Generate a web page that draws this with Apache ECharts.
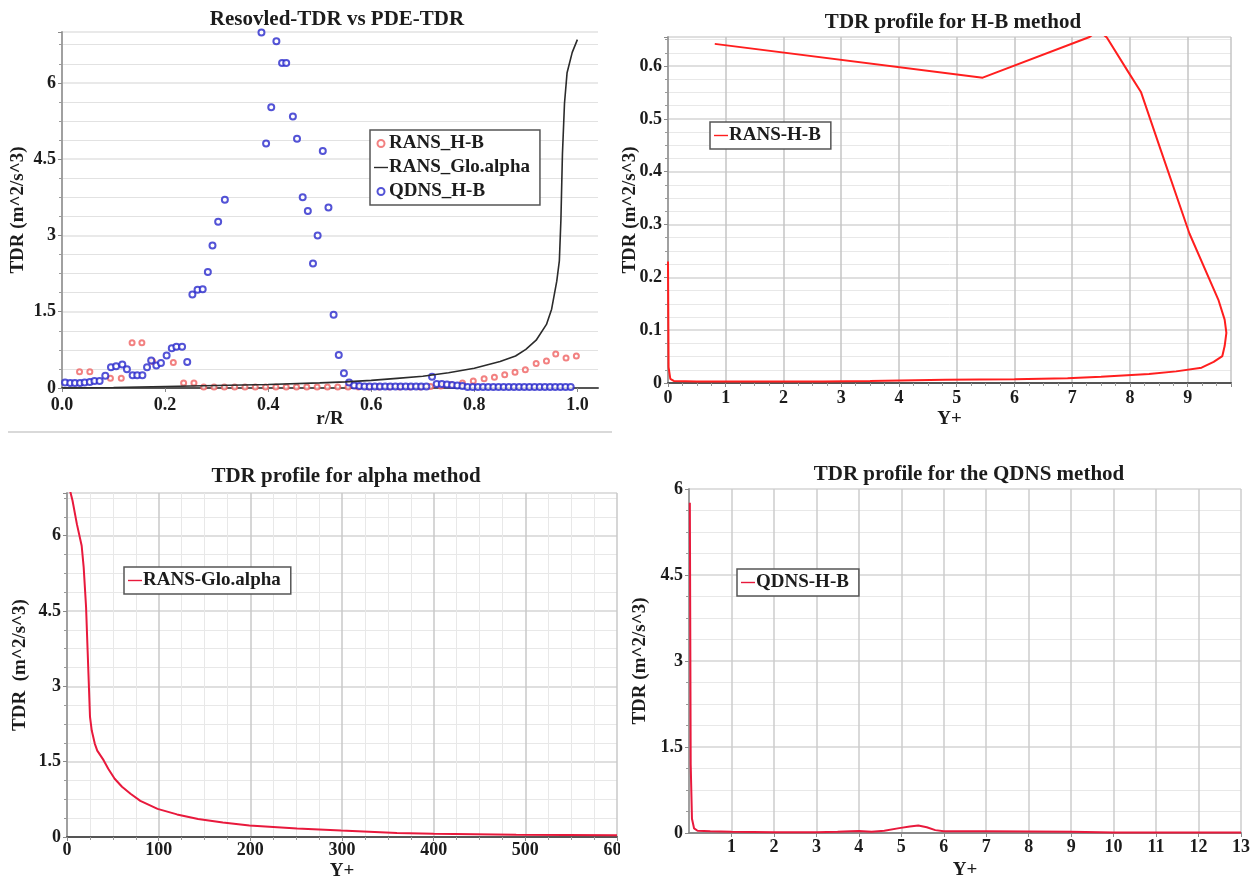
<!DOCTYPE html>
<html>
<head>
<meta charset="utf-8">
<script src="https://cdn.jsdelivr.net/npm/echarts@6/dist/echarts.min.js"></script>
<style>
  html, body { margin: 0; padding: 0; background: #fff; }
  #page { position: relative; width: 1256px; height: 884px; overflow: hidden; }
  .panel { position: absolute; overflow: hidden; }
</style>
</head>
<body>
<div id="page">
  <div id="c1" class="panel" style="left:0;top:0;width:620px;height:442px"></div>
  <div id="c2" class="panel" style="left:620px;top:0;width:636px;height:442px"></div>
  <div id="c3" class="panel" style="left:0;top:442px;width:620px;height:442px"></div>
  <div id="c4" class="panel" style="left:620px;top:442px;width:636px;height:442px"></div>
</div>
<script>
/* -------------------------------------------------------------------------- */
/*                                    Data                                    */
/* -------------------------------------------------------------------------- */

// Resolved-TDR vs PDE-TDR (r/R, TDR)
const rRansHB = [0.034, 0.054, 0.094, 0.115, 0.136, 0.155, 0.176, 0.216, 0.236, 0.256,
  0.275, 0.295, 0.315, 0.335, 0.355, 0.375, 0.395, 0.415, 0.435, 0.455, 0.475, 0.495,
  0.515, 0.535, 0.555, 0.575, 0.595, 0.615, 0.635, 0.655, 0.675, 0.695, 0.715, 0.735,
  0.755, 0.777, 0.798, 0.819, 0.839, 0.859, 0.879, 0.899, 0.92, 0.94, 0.958, 0.978, 0.998];
const tdrRansHB = [0.32, 0.32, 0.19, 0.19, 0.89, 0.89, 0.52, 0.5, 0.1, 0.1,
  0.02, 0.02, 0.02, 0.02, 0.02, 0.02, 0.02, 0.02, 0.02, 0.02, 0.02, 0.02,
  0.02, 0.02, 0.02, 0.02, 0.02, 0.02, 0.02, 0.02, 0.02, 0.02, 0.03, 0.04,
  0.065, 0.1, 0.14, 0.18, 0.21, 0.26, 0.31, 0.36, 0.48, 0.53, 0.67, 0.59, 0.63];

const rGloAlpha = [0, 0.1, 0.2, 0.3, 0.4, 0.5, 0.55, 0.6, 0.65, 0.7, 0.75, 0.8, 0.85, 0.88,
  0.9, 0.92, 0.94, 0.95, 0.96, 0.965, 0.968, 0.971, 0.975, 0.98, 0.99, 1.0];
const tdrGloAlpha = [0, 0.01, 0.03, 0.05, 0.07, 0.1, 0.12, 0.15, 0.19, 0.23, 0.3, 0.39, 0.52, 0.63,
  0.76, 0.94, 1.25, 1.55, 2.1, 2.5, 3.3, 4.6, 5.6, 6.2, 6.6, 6.85];

const rQdnsHB = [0.006, 0.016, 0.025, 0.035, 0.044, 0.054, 0.063, 0.073, 0.084, 0.095,
  0.105, 0.117, 0.126, 0.137, 0.146, 0.156, 0.165, 0.173, 0.183, 0.192,
  0.203, 0.213, 0.222, 0.233, 0.243, 0.253, 0.263, 0.273, 0.283, 0.292,
  0.303, 0.316, 0.387, 0.396, 0.406, 0.416, 0.427, 0.435, 0.448, 0.456,
  0.467, 0.477, 0.487, 0.496, 0.506, 0.517, 0.527, 0.537, 0.547, 0.557,
  0.567, 0.577, 0.587, 0.597, 0.607, 0.617, 0.627, 0.637, 0.647, 0.657,
  0.667, 0.677, 0.687, 0.697, 0.707, 0.718, 0.727, 0.737, 0.747, 0.757,
  0.767, 0.777, 0.787, 0.797, 0.807, 0.817, 0.827, 0.837, 0.847, 0.857,
  0.867, 0.877, 0.887, 0.897, 0.907, 0.917, 0.927, 0.937, 0.947, 0.957,
  0.967, 0.977, 0.987];
const tdrQdnsHB = [0.11, 0.1, 0.1, 0.1, 0.11, 0.12, 0.14, 0.14, 0.24, 0.41,
  0.43, 0.46, 0.37, 0.25, 0.25, 0.25, 0.41, 0.54, 0.44, 0.49,
  0.64, 0.78, 0.81, 0.81, 0.51, 1.84, 1.93, 1.94, 2.28, 2.8,
  3.27, 3.7, 6.99, 4.81, 5.52, 6.82, 6.39, 6.39, 5.34, 4.9,
  3.75, 3.48, 2.45, 3.0, 4.66, 3.55, 1.44, 0.65, 0.29, 0.11,
  0.05, 0.04, 0.03, 0.03, 0.03, 0.03, 0.03, 0.03, 0.03, 0.03,
  0.03, 0.03, 0.03, 0.03, 0.03, 0.22, 0.08, 0.08, 0.07, 0.06,
  0.05, 0.04, 0.02, 0.02, 0.02, 0.02, 0.02, 0.02, 0.02, 0.02,
  0.02, 0.02, 0.02, 0.02, 0.02, 0.02, 0.02, 0.02, 0.02, 0.02,
  0.02, 0.02, 0.02];

// H-B method profile (Y+, TDR), in drawing order
const yPlusHB = [0.81, 5.45, 7.3, 7.45, 7.6, 7.97, 8.19, 8.54, 9.03, 9.53, 9.64, 9.67, 9.64,
  9.6, 9.45, 9.24, 8.8, 8.33, 7.5, 6.92, 6.0, 4.8, 3.5, 2.68, 1.5, 0.5, 0.1, 0.04, 0.01, 0.0];
const tdrHB = [0.642, 0.578, 0.655, 0.668, 0.654, 0.589, 0.551, 0.439, 0.283, 0.158, 0.12, 0.095, 0.07,
  0.051, 0.04, 0.029, 0.022, 0.017, 0.012, 0.009, 0.007, 0.006, 0.004, 0.003, 0.003, 0.003, 0.004, 0.008, 0.03, 0.23];

// alpha method profile
const yPlusAlpha = [3, 6, 10.8, 16, 18.2, 20.8, 22.5, 25.1, 27, 30.3, 33, 39.9, 45, 52, 60, 69.3,
  80, 98.8, 120, 143, 170, 199, 251, 299, 360, 400, 490, 600];
const tdrAlpha = [6.92, 6.7, 6.23, 5.8, 5.37, 4.58, 3.71, 2.39, 2.12, 1.86, 1.72, 1.53, 1.36, 1.16, 1.0, 0.86,
  0.72, 0.56, 0.45, 0.36, 0.29, 0.23, 0.17, 0.13, 0.08, 0.066, 0.046, 0.033];

// QDNS method profile
const yPlusQdns = [0.02, 0.04, 0.07, 0.12, 0.2, 0.5, 1, 2, 3, 3.5, 3.8, 4.0, 4.3, 4.6, 4.95,
  5.2, 5.4, 5.6, 5.8, 6.0, 7, 8, 9, 10, 11, 12, 13];
const tdrQdns = [5.76, 1.2, 0.25, 0.08, 0.04, 0.03, 0.02, 0.015, 0.015, 0.02, 0.03, 0.035, 0.02, 0.04, 0.085,
  0.115, 0.13, 0.1, 0.05, 0.03, 0.03, 0.025, 0.02, 0.01, 0.01, 0.01, 0.01];

/* -------------------------------------------------------------------------- */
/*                                Shared styles                               */
/* -------------------------------------------------------------------------- */

const FONT = "'Liberation Serif', 'Times New Roman', serif";
const LINE_ICON = 'path://M0,0H20V2H0Z';
const txt = size => ({ fontFamily: FONT, fontWeight: 'bold', fontSize: size, color: '#1c1c1c' });
const pairs = (xs, ys) => xs.map((x, i) => [x, ys[i]]);

const valueAxis = cfg => ({
  type: 'value',
  min: cfg.min,
  max: cfg.max,
  interval: cfg.interval,
  name: cfg.name,
  nameLocation: 'middle',
  nameGap: cfg.nameGap,
  nameMoveOverlap: false,
  nameTextStyle: txt(19),
  axisLine: { show: true, onZero: false, lineStyle: { color: cfg.lineColor || '#a0a0a0', width: 2 } },
  axisTick: { show: true, length: 4, lineStyle: { color: '#8a8a8a' } },
  minorTick: { show: !!cfg.minor, splitNumber: cfg.minor || 4, length: 3, lineStyle: { color: '#9a9a9a' } },
  axisLabel: {
    ...txt(18),
    margin: cfg.margin || 6,
    formatter: cfg.fmt,
    showMinLabel: cfg.showMin !== false,
    showMaxLabel: !!cfg.showMax,
  },
  splitLine: { show: !!cfg.grid, lineStyle: { color: cfg.grid, width: 1.5 } },
  minorSplitLine: { show: !!cfg.minorGrid, lineStyle: { color: cfg.minorGrid, width: 1 } },
});

const grid = (left, right, top, bottom) => ({ left, right, top, bottom, outerBoundsMode: 'none' });

const title = (text, cx, top) => ({ text, left: cx, top, textAlign: 'center', textStyle: txt(21) });

const boxLegend = (left, top) => ({
  left,
  top,
  orient: 'vertical',
  backgroundColor: '#fff',
  borderColor: '#555',
  borderWidth: 1.5,
  padding: [4, 10, 4, 4],
  itemGap: 5,
  itemWidth: 14,
  itemHeight: 7,
  symbolKeepAspect: true,
  textStyle: { ...txt(19), padding: [0, 0, 0, -4] },
});

const profileLine = (name, xs, ys, color) => ({
  name,
  type: 'line',
  data: pairs(xs, ys),
  symbol: 'none',
  lineStyle: { color, width: 2 },
  itemStyle: { color },
});

/* -------------------------------------------------------------------------- */
/*                           Resolved-TDR vs PDE-TDR                          */
/* -------------------------------------------------------------------------- */

const chart1 = echarts.init(document.getElementById('c1'));
chart1.setOption({
  animation: false,
  title: title('Resovled-TDR vs PDE-TDR', 332, 4),
  grid: grid(62, 22, 32, 54),
  legend: {
    ...boxLegend(370, 130),
    data: [
      { name: 'RANS_H-B' },
      { name: 'RANS_Glo.alpha', icon: LINE_ICON },
      { name: 'QDNS_H-B' },
    ],
  },
  xAxis: valueAxis({
    min: 0, max: 1.04, interval: 0.2, name: 'r/R', nameGap: 22, margin: 8,
    lineColor: '#555', fmt: v => v.toFixed(1),
  }),
  yAxis: valueAxis({
    min: 0, max: 7, interval: 1.5, name: 'TDR (m^2/s^3)', nameGap: 34, minor: 4,
    grid: '#e2e2e2', minorGrid: '#e2e2e2',
  }),
  graphic: [{ type: 'rect', shape: { x: 8, y: 431, width: 604, height: 2 }, style: { fill: '#d9d9d9' } }],
  series: [
    {
      name: 'RANS_H-B',
      type: 'scatter',
      data: pairs(rRansHB, tdrRansHB),
      symbol: 'emptyCircle',
      symbolSize: 5,
      itemStyle: { color: '#ef6262', borderWidth: 1 },
    },
    {
      name: 'RANS_Glo.alpha',
      type: 'line',
      data: pairs(rGloAlpha, tdrGloAlpha),
      symbol: 'none',
      lineStyle: { color: '#2b2b2b', width: 1.6 },
      itemStyle: { color: '#2b2b2b' },
    },
    {
      name: 'QDNS_H-B',
      type: 'scatter',
      data: pairs(rQdnsHB, tdrQdnsHB),
      symbol: 'emptyCircle',
      symbolSize: 6,
      itemStyle: { color: '#2828cc', borderWidth: 1.6 },
    },
  ],
});

/* -------------------------------------------------------------------------- */
/*                          TDR profile for H-B method                        */
/* -------------------------------------------------------------------------- */

const chart2 = echarts.init(document.getElementById('c2'));
chart2.setOption({
  animation: false,
  title: title('TDR profile for H-B method', 328, 7),
  grid: grid(48, 25, 37, 59),
  legend: { ...boxLegend(90, 122), data: [{ name: 'RANS-H-B', icon: LINE_ICON }] },
  xAxis: valueAxis({
    min: 0, max: 9.75, interval: 1, name: 'Y+', nameGap: 27, minor: 4,
    lineColor: '#555', grid: '#c4c4c4',
  }),
  yAxis: valueAxis({
    min: 0, max: 0.655, interval: 0.1, name: 'TDR (m^2/s^3)', nameGap: 28, minor: 4,
    grid: '#d4d4d4', minorGrid: '#e8e8e8', fmt: v => (v === 0 ? '0' : v.toFixed(1)),
  }),
  series: [profileLine('RANS-H-B', yPlusHB, tdrHB, '#ff1e1e')],
});

/* -------------------------------------------------------------------------- */
/*                         TDR profile for alpha method                       */
/* -------------------------------------------------------------------------- */

const chart3 = echarts.init(document.getElementById('c3'));
chart3.setOption({
  animation: false,
  title: title('TDR profile for alpha method', 341, 19),
  grid: grid(67, 3, 51, 47),
  legend: { ...boxLegend(124, 125), data: [{ name: 'RANS-Glo.alpha', icon: LINE_ICON }] },
  xAxis: valueAxis({
    min: 0, max: 600, interval: 100, name: 'Y+', nameGap: 25, minor: 4, margin: 4,
    lineColor: '#555', grid: '#c8c8c8', minorGrid: '#e8e8e8', showMax: true,
  }),
  yAxis: valueAxis({
    min: 0, max: 6.85, interval: 1.5, name: 'TDR  (m^2/s^3)', nameGap: 37, minor: 4,
    grid: '#d4d4d4', minorGrid: '#e8e8e8',
  }),
  series: [profileLine('RANS-Glo.alpha', yPlusAlpha, tdrAlpha, '#e8193c')],
});

/* -------------------------------------------------------------------------- */
/*                       TDR profile for the QDNS method                      */
/* -------------------------------------------------------------------------- */

const chart4 = echarts.init(document.getElementById('c4'));
chart4.setOption({
  animation: false,
  title: title('TDR profile for the QDNS method', 344, 17),
  grid: grid(69, 15, 47, 51),
  legend: { ...boxLegend(117, 127), data: [{ name: 'QDNS-H-B', icon: LINE_ICON }] },
  xAxis: valueAxis({
    min: 0, max: 13, interval: 1, name: 'Y+', nameGap: 28, margin: 5,
    lineColor: '#8a8a8a', grid: '#cdcdcd', showMin: false, showMax: true,
  }),
  yAxis: valueAxis({
    min: 0, max: 6, interval: 1.5, name: 'TDR (m^2/s^3)', nameGap: 39, minor: 4,
    grid: '#d4d4d4', minorGrid: '#e8e8e8', showMax: true,
  }),
  series: [profileLine('QDNS-H-B', yPlusQdns, tdrQdns, '#e8193c')],
});
</script>
</body>
</html>
